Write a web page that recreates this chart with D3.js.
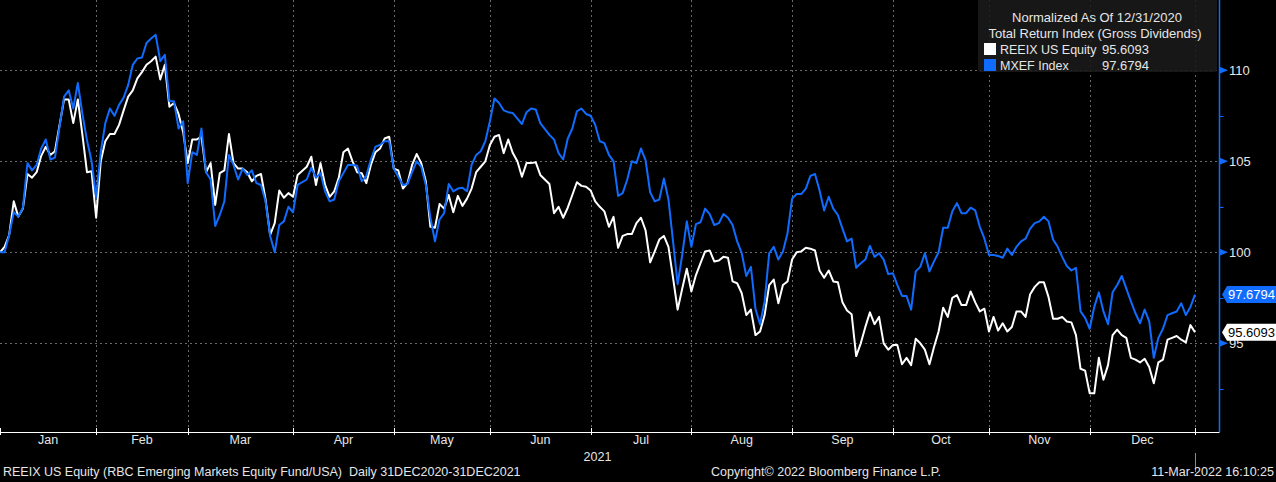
<!DOCTYPE html>
<html>
<head>
<meta charset="utf-8">
<script src="https://cdn.jsdelivr.net/npm/d3@7"></script>
<style>
  html, body { margin: 0; padding: 0; background: #000; }
  svg { display: block; }
  text { font-family: "Liberation Sans", Arial, sans-serif; }
</style>
</head>
<body>
<div id="chart"></div>
<script>
// weekday number counted from 31-Dec-2020 (0) to 31-Dec-2021 (261)
const days = [
  0, 1, 2, 3, 4, 5, 6, 7, 8, 9, 10, 11, 12, 14, 15, 16, 17, 18, 19, 20,
  21, 22, 23, 24, 25, 26, 27, 28, 29, 30, 31, 32, 33, 34, 35, 36, 37, 38, 39, 40,
  41, 42, 43, 44, 45, 46, 47, 48, 49, 50, 51, 52, 53, 54, 55, 56, 57, 58, 59, 60,
  61, 62, 63, 64, 65, 67, 68, 69, 70, 71, 72, 73, 74, 75, 76, 77, 78, 79, 80, 81,
  82, 83, 84, 85, 86, 87, 88, 89, 90, 91, 92, 93, 94, 95, 96, 97, 98, 99, 100, 101,
  102, 103, 104, 105, 106, 107, 108, 109, 110, 111, 112, 113, 114, 115, 116, 117, 118, 120, 121, 122,
  123, 124, 125, 126, 127, 128, 129, 130, 131, 132, 133, 134, 135, 136, 137, 138, 139, 140, 141, 142,
  143, 144, 145, 146, 147, 148, 149, 150, 151, 152, 153, 154, 155, 156, 157, 158, 159, 160, 161, 162,
  163, 164, 165, 166, 167, 168, 169, 170, 171, 172, 173, 174, 175, 176, 177, 178, 179, 180, 181, 182,
  183, 184, 185, 186, 187, 188, 189, 190, 191, 192, 193, 194, 195, 196, 197, 198, 199, 200, 201, 202,
  203, 204, 205, 206, 207, 208, 209, 210, 211, 212, 213, 214, 215, 216, 217, 218, 219, 220, 221, 222,
  223, 224, 225, 226, 227, 228, 229, 230, 231, 232, 233, 234, 235, 236, 237, 238, 239, 240, 241, 242,
  243, 244, 245, 246, 247, 248, 249, 250, 251, 252, 253, 254, 255, 256, 257, 258, 259, 260, 261
];

const reeix = [
  100, 100.3, 100.95, 102.8, 101.96, 102.4, 104.3, 104.1, 104.4, 105.3, 105.8, 105.35, 105.55, 108.4, 108.4, 107.1, 108.4, 106.45, 104.4, 104.45,
  101.9, 105.0, 106.1, 106.5, 106.5, 107.0, 107.8, 108.55, 108.9, 109.56, 109.9, 110.3, 110.5, 110.75, 109.5, 110.3, 108.0, 108.2, 107.6, 106.6,
  104.9, 106.2, 106.2, 106.35, 104.4, 104.9, 102.6, 104.35, 104.5, 106.5, 104.9, 104.6, 104.6, 104.4, 103.9, 104.2, 104.3, 102.9, 100.95, 101.6,
  103.4, 103.0, 103.25, 103.05, 104.25, 104.7, 105.25, 103.7, 104.9, 103.7, 103.05, 103.35, 104.1, 105.5, 105.7, 105.0, 104.4, 104.35, 103.8, 104.8,
  105.5, 105.7, 106.25, 106.35, 104.6, 104.5, 103.5, 103.8, 104.8, 105.4, 104.9, 103.9, 101.4, 101.35, 102.65, 102.4, 103.15, 102.2, 103.1, 102.55,
  102.95, 103.5, 104.4, 104.7, 105.0, 105.9, 106.35, 106.45, 105.45, 106.2, 105.45, 105.0, 104.15, 104.9, 104.9, 104.95, 104.25, 103.75, 102.15, 102.5,
  101.9, 102.45, 103.15, 103.85, 103.65, 103.6, 103.4, 102.8, 102.5, 102.25, 101.4, 101.95, 100.25, 100.9, 101.0, 101.0, 101.6, 101.9, 101.2, 99.45,
  100.05, 100.7, 100.9, 100.3, 98.6, 96.85, 98.0, 99.1, 97.85, 98.75, 99.4, 100.05, 100.1, 99.5, 99.55, 99.75, 99.7, 98.4, 98.3, 97.75,
  96.55, 96.85, 95.45, 95.65, 96.55, 98.2, 98.5, 97.2, 98.2, 98.4, 99.6, 100.0, 100.05, 100.25, 100.2, 100.1, 99.0, 98.6, 99.0, 98.4,
  98.35, 97.25, 96.8, 96.6, 94.3, 95.0, 95.9, 96.7, 96.05, 96.45, 95.0, 94.65, 94.9, 94.9, 93.85, 94.2, 93.8, 95.25, 95.0, 94.65,
  93.85, 94.8, 95.65, 96.95, 96.45, 97.5, 97.65, 97.1, 97.1, 97.85, 97.25, 96.75, 96.9, 95.65, 96.45, 95.7, 96.1, 95.65, 95.9, 96.75,
  96.75, 96.45, 97.7, 98.1, 98.35, 98.35, 97.55, 96.35, 96.35, 96.45, 96.2, 96.15, 95.45, 93.6, 93.5, 92.25, 92.25, 94.2, 93.0, 93.8,
  95.45, 95.75, 95.45, 95.3, 94.2, 94.1, 93.95, 94.15, 93.7, 92.8, 93.95, 94.1, 95.2, 95.3, 95.4, 95.2, 95.05, 96.0, 95.6093
];

const mxef = [
  100, 100, 100.95, 102.2, 101.96, 102.45, 104.9, 104.5, 104.8, 105.7, 106.2, 105.1, 105.2, 108.55, 108.9, 107.9, 109.3, 107.6, 106.15, 105.0,
  103.0, 105.5, 107.1, 107.9, 107.5, 108.1, 108.5, 109.2, 110.3, 110.65, 110.7, 111.5, 111.75, 111.95, 110.5, 110.85, 108.3, 108.3, 106.8, 107.2,
  103.8, 105.5, 105.35, 106.8, 104.4, 104.0, 101.45, 102.05, 102.8, 105.35, 104.8, 104.0, 104.6, 104.25, 104.5, 103.8, 103.7, 102.8, 100.9, 100.0,
  101.5, 101.7, 102.5, 102.2, 103.7, 104.0, 104.65, 104.1, 104.35, 103.35, 102.8, 102.9, 103.9, 104.35, 104.8, 104.8, 104.75, 103.9, 104.2, 105.1,
  105.8, 105.9, 106.1, 106.1, 104.6, 104.15, 103.7, 103.75, 104.4, 105.0, 104.7, 103.7, 101.9, 100.6, 101.8, 102.15, 103.75, 103.35, 103.5, 103.55,
  103.35, 104.8, 105.35, 105.55, 106.1, 107.2, 108.45, 108.2, 107.8, 107.7, 107.65, 107.35, 107.05, 107.7, 107.9, 107.85, 107.1, 106.45, 106.2, 105.45,
  105.1, 106.25, 106.8, 107.75, 107.9, 107.6, 107.5, 107.0, 106.1, 106.0, 105.35, 105.0, 103.1, 103.25, 104.0, 105.0, 104.9, 105.7, 105.05, 103.3,
  102.8, 102.9, 104.05, 102.9, 100.6, 98.25, 99.85, 101.7, 100.3, 101.55, 101.65, 102.4, 102.1, 101.5, 101.6, 102.1, 101.9, 101.5, 100.6, 99.95,
  98.7, 99.2, 96.9, 96.05, 97.3, 99.95, 100.3, 99.6, 100.05, 101.05, 102.95, 103.2, 103.2, 103.5, 104.2, 104.3, 103.4, 102.3, 103.05, 102.4,
  102.05, 101.3, 100.6, 100.75, 99.15, 99.4, 99.6, 100.35, 99.75, 99.95, 99.6, 98.8, 98.85, 98.2, 97.6, 97.6, 96.85, 98.95, 99.2, 99.95,
  98.95, 99.5, 100.0, 101.35, 101.35, 102.25, 102.7, 102.15, 102.15, 102.45, 102.3, 101.4, 100.75, 99.85, 99.85, 99.8, 99.7, 100.2, 99.85, 100.3,
  100.6, 100.75, 101.3, 101.6, 101.7, 101.95, 101.7, 100.7, 100.3, 99.75, 99.25, 99.0, 99.15, 96.75, 96.4, 95.8, 97.0, 97.8, 96.75, 96.05,
  97.8, 98.2, 98.7, 98.0, 97.3, 96.65, 96.1, 96.85, 96.2, 94.2, 95.3, 95.8, 96.55, 96.65, 96.75, 97.2, 96.55, 97.0, 97.6794
];

const seriesNames = ["REEIX US Equity", "MXEF Index"];
const lastLabels = ["95.6093", "97.6794"];
const yTicks = [95, 100, 105, 110];
const yMinor = [92.5, 97.5, 102.5, 107.5];
const monthNames = ["Jan", "Feb", "Mar", "Apr", "May", "Jun", "Jul", "Aug", "Sep", "Oct", "Nov", "Dec"];
const yearLabel = "2021";
const legendTitle = ["Normalized As Of 12/31/2020", "Total Return Index (Gross Dividends)"];
const footerLeft = "REEIX US Equity (RBC Emerging Markets Equity Fund/USA)  Daily 31DEC2020-31DEC2021";
const footerMid = "Copyright\u00A9 2022 Bloomberg Finance L.P.";
const footerRight = "11-Mar-2022 16:10:25";

const W = 1276, H = 482;
const plotRight = 1195, axisX = 1219.5, axisY = 432;
const colWhite = "#ffffff", colBlue = "#106cff", colGrid = "#6a6a6a", colText = "#e6e6e6";

// weekday calendar, 31-Dec-2020 .. 31-Dec-2021
const cal = [];
for (let d = new Date(2020, 11, 31); d <= new Date(2021, 11, 31); d.setDate(d.getDate() + 1)) {
  const wd = d.getDay();
  if (wd !== 0 && wd !== 6) cal.push(new Date(d));
}
// last weekday of each month
const monthEnds = d3.range(12).map(m =>
  d3.max(cal.map((d, i) => (d.getFullYear() === 2021 && d.getMonth() === m ? i : -1)))
);

const x = d3.scaleLinear().domain([0, cal.length - 1]).range([0, plotRight]);
const y = d3.scaleLinear().domain([95, 110]).range([343.3, 70.3]);

const svg = d3.select("#chart").append("svg")
  .attr("width", W).attr("height", H)
  .style("background", "#000");

// grid
const grid = svg.append("g")
  .attr("stroke", colGrid).attr("stroke-width", 1).attr("stroke-dasharray", "2,3");
grid.selectAll("line.h").data(yTicks).join("line")
  .attr("x1", 0).attr("x2", axisX)
  .attr("y1", d => Math.round(y(d)) + 0.5).attr("y2", d => Math.round(y(d)) + 0.5);
grid.selectAll("line.v").data(monthEnds).join("line")
  .attr("y1", 0).attr("y2", axisY)
  .attr("x1", d => Math.round(x(d)) + 0.5).attr("x2", d => Math.round(x(d)) + 0.5);

// lines
const rows = days.map((d, i) => ({ d, w: reeix[i], b: mxef[i] }));
const lineW = d3.line().x(r => x(r.d)).y(r => y(r.w));
const lineB = d3.line().x(r => x(r.d)).y(r => y(r.b));
svg.append("path").datum(rows).attr("d", lineW)
  .attr("fill", "none").attr("stroke", colWhite).attr("stroke-width", 2).attr("stroke-linejoin", "round");
svg.append("path").datum(rows).attr("d", lineB)
  .attr("fill", "none").attr("stroke", colBlue).attr("stroke-width", 2).attr("stroke-linejoin", "round");

// bottom axis
svg.append("line").attr("x1", 0).attr("x2", axisX).attr("y1", axisY + 0.5).attr("y2", axisY + 0.5)
  .attr("stroke", "#ffffff").attr("stroke-width", 1.2);
svg.append("g").selectAll("line").data([0, ...monthEnds]).join("line")
  .attr("x1", d => Math.round(x(d)) + 0.5).attr("x2", d => Math.round(x(d)) + 0.5)
  .attr("y1", axisY - 4).attr("y2", axisY + 3)
  .attr("stroke", "#ffffff").attr("stroke-width", 1);
svg.append("g").selectAll("text").data(monthNames).join("text")
  .attr("x", (d, i) => (x(i === 0 ? 0 : monthEnds[i - 1]) + x(monthEnds[i])) / 2)
  .attr("y", 444)
  .attr("text-anchor", "middle").attr("fill", colText).attr("font-size", 12.5)
  .text(d => d);
svg.append("text").attr("x", x((cal.length - 1) / 2)).attr("y", 461)
  .attr("text-anchor", "middle").attr("fill", colText).attr("font-size", 12.5).text(yearLabel);
svg.append("line")
  .attr("x1", Math.round(x(cal.length - 1)) + 0.5).attr("x2", Math.round(x(cal.length - 1)) + 0.5)
  .attr("y1", 453).attr("y2", 472).attr("stroke", "#8a8a8a");

// right axis
svg.append("line").attr("x1", axisX).attr("x2", axisX).attr("y1", 0).attr("y2", axisY)
  .attr("stroke", colBlue).attr("stroke-width", 1.5);
svg.append("g").selectAll("path").data(yTicks).join("path")
  .attr("d", d => `M${axisX},${y(d) - 3.5}L${axisX + 8.5},${y(d)}L${axisX},${y(d) + 3.5}Z`)
  .attr("fill", colBlue);
svg.append("g").selectAll("line").data(yMinor).join("line")
  .attr("x1", axisX).attr("x2", axisX + 4)
  .attr("y1", d => Math.round(y(d)) + 0.5).attr("y2", d => Math.round(y(d)) + 0.5)
  .attr("stroke", colBlue).attr("stroke-width", 1);
svg.append("g").selectAll("text").data(yTicks).join("text")
  .attr("x", 1229).attr("y", d => y(d) + 4.5)
  .attr("fill", colText).attr("font-size", 13)
  .text(d => d);

// last value tags
const lastVals = [reeix[reeix.length - 1], mxef[mxef.length - 1]];
const tagFill = [colWhite, colBlue];
const tagText = ["#000000", "#ffffff"];
const tags = svg.append("g").selectAll("g").data(lastVals).join("g");
tags.append("path")
  .attr("d", v => {
    const cy = y(v), tx = 1222;
    return `M${tx},${cy}L${tx + 5},${cy - 8.5}L${W},${cy - 8.5}L${W},${cy + 8.5}L${tx + 5},${cy + 8.5}Z`;
  })
  .attr("fill", (v, i) => tagFill[i]);
tags.append("text")
  .attr("x", 1228).attr("y", v => y(v) + 4.5)
  .attr("fill", (v, i) => tagText[i]).attr("font-size", 13)
  .text((v, i) => lastLabels[i]);

// legend
const lg = svg.append("g");
lg.append("rect").attr("x", 978).attr("y", -3).attr("width", 239).attr("height", 75).attr("rx", 3)
  .attr("fill", "#1a1a1a").attr("fill-opacity", 0.88);
lg.append("text").attr("x", 1097).attr("y", 21.5).attr("text-anchor", "middle")
  .attr("fill", colText).attr("font-size", 13).text(legendTitle[0]);
lg.append("text").attr("x", 1095).attr("y", 37.5).attr("text-anchor", "middle")
  .attr("fill", colText).attr("font-size", 13).text(legendTitle[1]);
const items = lg.selectAll("g.item").data(seriesNames).join("g")
  .attr("transform", (d, i) => `translate(0,${49 + i * 16})`);
items.append("rect").attr("x", 984).attr("y", -6).attr("width", 12).attr("height", 12)
  .attr("fill", (d, i) => tagFill[i]);
items.append("text").attr("x", 1000).attr("y", 4.5).attr("fill", colText).attr("font-size", 12.5).text(d => d);
items.append("text").attr("x", 1102).attr("y", 4.5).attr("fill", colText).attr("font-size", 13)
  .text((d, i) => lastLabels[i]);

// footer
svg.append("text").attr("x", 3).attr("y", 476).attr("fill", colText).attr("font-size", 12.5)
  .attr("xml:space", "preserve").text(footerLeft);
svg.append("text").attr("x", 711).attr("y", 476).attr("fill", colText).attr("font-size", 12.5).text(footerMid);
svg.append("text").attr("x", 1274).attr("y", 476).attr("text-anchor", "end")
  .attr("fill", colText).attr("font-size", 12.5).text(footerRight);
</script>
</body>
</html>
